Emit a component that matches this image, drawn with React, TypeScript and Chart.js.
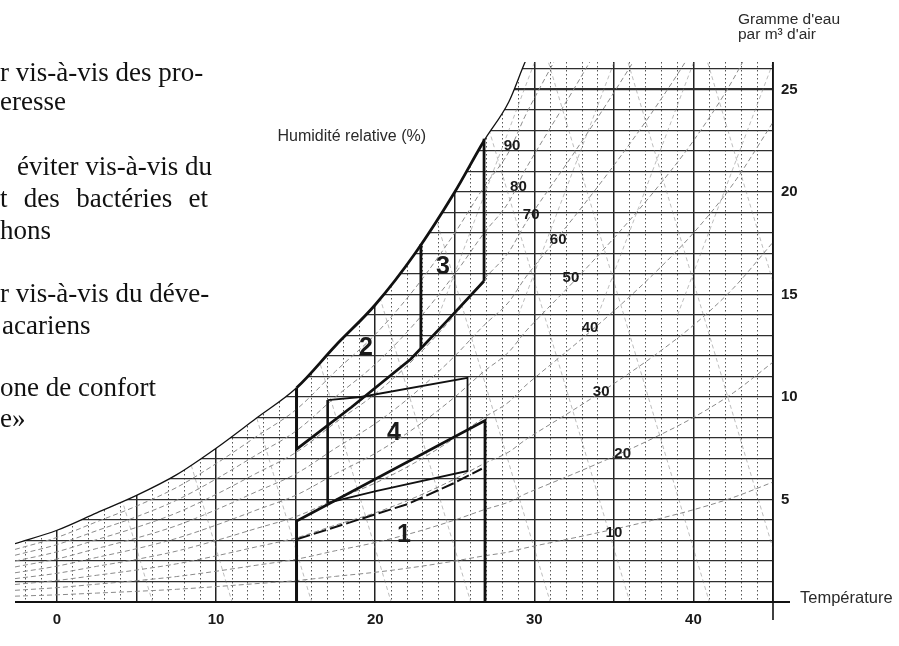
import React, { useEffect, useRef } from "react";
import { Chart, registerables } from "chart.js";

Chart.register(...registerables);

// Saturation curve: temperature (°C) -> water content (g/m³)
const satTemps = [-2.64, 0, 2.5, 5, 7.5, 10, 12.5, 15.06, 17.5, 20, 22.5, 25, 26.84, 28.4, 29.4, 30, 32.5, 35, 37.5, 40, 42.5, 45];
const satValues = [2.85, 3.5, 4.35, 5.2, 6.2, 7.5, 8.95, 10.45, 12.5, 14.5, 17.0, 20.0, 22.5, 24.4, 26.3, 27.3, 31.3, 35.5, 40.0, 45.0, 51.0, 58.5];

// Relative humidity curves (% of saturation)
const rhLevels = [10, 20, 30, 40, 50, 60, 70, 80, 90];
const rhLabelTemps = [35.0, 35.55, 34.2, 33.5, 32.3, 31.5, 29.8, 29.0, 28.6];
const rhLabelHums = [3.37, 7.22, 10.24, 13.37, 15.8, 17.66, 18.88, 20.24, 22.24];

// Faint diagonal background lines [T1, g1, T2, g2]
const diagDown = [
  [-4.1, 26.3, 6, 0], [0.9, 26.3, 11, 0], [5.9, 26.3, 16, 0], [10.9, 26.3, 21, 0],
  [15.9, 26.3, 26, 0], [20.9, 26.3, 31, 0], [25.9, 26.3, 36, 0], [30.9, 26.3, 41, 0],
  [35.9, 26.3, 46, 0], [40.9, 26.3, 51, 0],
];
const diagUp = [
  [24, 14, 30, 26.3], [29, 14, 35, 26.3], [34, 14, 40, 26.3], [39, 14, 45, 26.3],
];

// Zones [T, g]
const zone1 = [[15.06, 0], [15.06, 3.95], [26.9, 8.85], [26.9, 0]];
const zone2 = [[15.06, 10.45], [15.06, 7.46], [18.5, 9.5], [22.24, 11.85], [24.5, 13.7], [26.84, 15.66]];
const zone3Left = [[22.87, 12.38], [22.87, 17.45]];
const zone3Right = [[26.84, 15.66], [26.84, 22.6]];
const zone4Left = [[17.01, 4.83], [17.01, 9.85]];
const zone4Outline = [[17.01, 9.85], [19.09, 10.0], [25.8, 10.93], [25.8, 6.39], [20.04, 5.41], [17.01, 4.83]];
const dashedLimit = [[15.12, 3.07], [22.05, 4.78], [24.95, 5.8], [26.7, 6.5]];

const zoneLabels = ["1", "2", "3", "4"];
const zoneLabelTemps = [21.8, 19.41, 24.26, 21.17];
const zoneLabelHums = [3.27, 12.39, 16.34, 8.24];

// Axis tick labels
const xTickLabels = [0, 10, 20, 30, 40];
const yTickLabels = [5, 10, 15, 20, 25];

// Side text (cropped paragraph)
const sideLines = [
  "r vis-à-vis des pro-",
  "eresse",
  "éviter vis-à-vis du",
  "t des bactéries et",
  "hons",
  "r vis-à-vis du déve-",
  "acariens",
  "one de confort",
  "e»",
];
const sideLeft = [0, 0, 17, 0, 0, 0, 2, 0, 0];
const sideBaseline = [82, 111, 176, 208, 240, 303, 335, 397, 428];
const sideJustifyWidth = [0, 0, 0, 208, 0, 0, 0, 0, 0];

const pts = (arr: number[][]) => arr.map(([a, b]) => ({ x: a, y: b }));

const SANS = '"Liberation Sans", Arial, Helvetica, sans-serif';

const overlay = {
  id: "overlay",
  afterDatasetsDraw(chart: any) {
    const { ctx, chartArea } = chart;
    const xs = chart.scales.x;
    const ys = chart.scales.y;
    const px = (v: number) => xs.getPixelForValue(v);
    const py = (v: number) => ys.getPixelForValue(v);
    ctx.save();
    // x axis line
    ctx.strokeStyle = "#111";
    ctx.lineWidth = 2.2;
    ctx.beginPath();
    ctx.moveTo(chartArea.left, py(0));
    ctx.lineTo(px(45) + 17, py(0));
    ctx.stroke();
    // right border extension
    ctx.lineWidth = 1.6;
    ctx.beginPath();
    ctx.moveTo(px(45), chartArea.top);
    ctx.lineTo(px(45), py(0) + 18);
    ctx.stroke();

    ctx.fillStyle = "#1a1a1a";
    // x tick labels
    ctx.font = `bold 15px ${SANS}`;
    ctx.textAlign = "center";
    ctx.textBaseline = "middle";
    xTickLabels.forEach((v) => ctx.fillText(String(v), px(v), py(0) + 18));
    // y tick labels (right)
    ctx.textAlign = "left";
    yTickLabels.forEach((v) => ctx.fillText(String(v), px(45) + 8, py(v)));
    // RH labels
    ctx.textAlign = "center";
    ctx.font = `bold 15px ${SANS}`;
    rhLevels.forEach((l, i) => ctx.fillText(String(l), px(rhLabelTemps[i]), py(rhLabelHums[i])));
    // zone labels
    ctx.font = `bold 25px ${SANS}`;
    zoneLabels.forEach((t, i) => ctx.fillText(t, px(zoneLabelTemps[i]), py(zoneLabelHums[i])));
    // captions
    ctx.fillStyle = "#2a2a2a";
    ctx.textAlign = "left";
    ctx.font = `16px ${SANS}`;
    ctx.fillText("Humidité relative (%)", px(13.86), py(22.68));
    ctx.font = `15.5px ${SANS}`;
    ctx.fillText("Gramme d'eau", px(45) - 35, chartArea.top - 42);
    ctx.fillText("par m³ d'air", px(45) - 35, chartArea.top - 27);
    ctx.font = `16.5px ${SANS}`;
    ctx.fillText("Température", px(45) + 27, py(0) - 4);
    ctx.restore();
  },
};

export default function App() {
  const ref = useRef<HTMLCanvasElement>(null);

  useEffect(() => {
    document.body.style.margin = "0";
    const datasets: any[] = [];
    const faint = (d: number[]) => ({
      data: [{ x: d[0], y: d[1] }, { x: d[2], y: d[3] }],
      borderColor: "rgba(120,120,120,0.55)",
      borderWidth: 0.9,
      borderDash: [4, 3],
      pointRadius: 0,
      order: 30,
    });
    diagDown.forEach((d) => datasets.push(faint(d)));
    diagUp.forEach((d) => datasets.push(faint(d)));
    rhLevels.forEach((l) =>
      datasets.push({
        data: satTemps.map((t, i) => ({ x: t, y: (satValues[i] * l) / 100 })),
        borderColor: "#8a8a8a",
        borderWidth: 1,
        borderDash: [5, 3],
        cubicInterpolationMode: "monotone",
        pointRadius: 0,
        order: 20,
      })
    );
    // white mask above the saturation curve (hides grid there)
    datasets.push({
      data: satTemps.map((t, i) => ({ x: t, y: satValues[i] })),
      fill: "end",
      backgroundColor: "#ffffff",
      borderColor: "rgba(0,0,0,0)",
      borderWidth: 0,
      cubicInterpolationMode: "monotone",
      pointRadius: 0,
      order: 10,
    });
    // saturation curve line, bold where it bounds zones 2 and 3
    datasets.push({
      data: satTemps.map((t, i) => ({ x: t, y: satValues[i] })),
      fill: false,
      borderColor: "#111",
      borderWidth: 1.3,
      segment: {
        borderWidth: (c: any) => (c.p0.parsed.x >= 15 && c.p1.parsed.x <= 26.9 ? 2.8 : 1.3),
      },
      cubicInterpolationMode: "monotone",
      pointRadius: 0,
      order: 5,
    });
    const bold = (arr: number[][], w: number, dash: number[] = []) => ({
      data: pts(arr),
      borderColor: "#111",
      borderWidth: w,
      borderDash: dash,
      pointRadius: 0,
      order: 0,
      borderJoinStyle: "miter",
    });
    datasets.push(bold(zone1, 2.8));
    datasets.push(bold(zone2, 2.8));
    datasets.push(bold(zone3Left, 2.8));
    datasets.push(bold(zone3Right, 2.8));
    datasets.push(bold(zone4Left, 2.6));
    datasets.push(bold(zone4Outline, 1.8));
    datasets.push(bold(dashedLimit, 2.0, [13, 4]));

    const chart = new Chart(ref.current as HTMLCanvasElement, {
      type: "line",
      data: { datasets },
      plugins: [overlay],
      options: {
        animation: false,
        responsive: false,
        devicePixelRatio: 1,
        events: [],
        layout: { padding: { left: 15, right: 126, top: 62, bottom: 44 } },
        plugins: { legend: { display: false }, tooltip: { enabled: false } },
        scales: {
          x: {
            type: "linear",
            min: -2.64,
            max: 45,
            ticks: { display: false, stepSize: 5, includeBounds: false, autoSkip: false },
            grid: { drawTicks: false, color: "#222", lineWidth: 1.5 },
            border: { display: false },
          },
          x2: {
            type: "linear",
            position: "bottom",
            min: -2.64,
            max: 45,
            ticks: { display: false, stepSize: 1, includeBounds: false, autoSkip: false },
            grid: {
              drawTicks: false,
              lineWidth: 1,
              color: (c: any) =>
                c.tick && Math.abs(Math.round(c.tick.value) % 5) === 0 ? "rgba(0,0,0,0)" : "#555",
            },
            border: { display: false, dash: [1.5, 2.5] },
          },
          y: {
            type: "linear",
            min: 0,
            max: 26.34,
            ticks: { display: false, stepSize: 1, includeBounds: false, autoSkip: false },
            grid: {
              drawTicks: false,
              color: (c: any) => (c.tick && c.tick.value === 0 ? "rgba(0,0,0,0)" : "#2e2e2e"),
              lineWidth: (c: any) => (c.tick && c.tick.value === 25 ? 2.2 : 1.15),
            },
            border: { display: false },
          },
        },
      } as any,
    });
    return () => chart.destroy();
  }, []);

  return (
    <div
      style={{
        position: "fixed",
        left: 0,
        top: 0,
        width: 899,
        height: 646,
        background: "#fff",
        overflow: "hidden",
      }}
    >
      <canvas
        ref={ref}
        width={899}
        height={646}
        style={{ position: "absolute", left: 0, top: 0, width: 899, height: 646 }}
      />
      {sideLines.map((t, i) => (
        <div
          key={i}
          style={{
            position: "absolute",
            left: sideLeft[i],
            top: sideBaseline[i] - 24.6,
            fontFamily: '"Liberation Serif", "Times New Roman", serif',
            fontSize: 27,
            lineHeight: "31px",
            color: "#111",
            whiteSpace: "nowrap",
            width: sideJustifyWidth[i] ? sideJustifyWidth[i] : undefined,
            textAlign: sideJustifyWidth[i] ? "justify" : "left",
            textAlignLast: sideJustifyWidth[i] ? "justify" : undefined,
          } as any}
        >
          {t}
        </div>
      ))}
    </div>
  );
}
